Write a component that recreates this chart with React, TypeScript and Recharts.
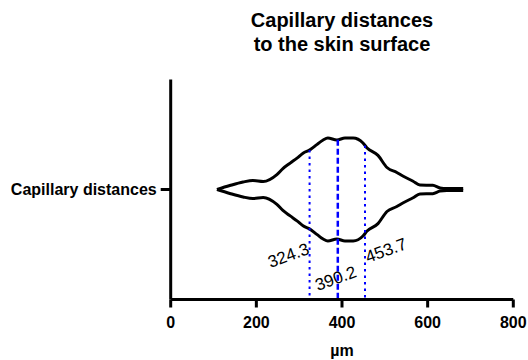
import React from 'react';
import { ComposedChart, Line, XAxis, YAxis, ReferenceLine, Label } from 'recharts';

// Violin outline: distance (µm) and half-width density (relative units)
const distanceUm = [108, 138, 169, 192, 216, 248, 262, 279, 295, 309, 325, 342, 356, 367, 388, 407, 426, 449, 458, 484, 505, 528, 542, 566, 582, 612, 629, 645, 683];
const density = [0, 0.036, 0.068, 0.082, 0.073, 0.136, 0.19, 0.24, 0.285, 0.33, 0.36, 0.41, 0.45, 0.468, 0.45, 0.468, 0.468, 0.423, 0.38, 0.31, 0.2, 0.155, 0.123, 0.075, 0.041, 0.038, 0.014, 0.009, 0.009];

const categoryLabel = 'Capillary distances';
const titleLines = ['Capillary distances', 'to the skin surface'];
const xTicks = [0, 200, 400, 600, 800];
const xAxisTitle = 'µm';

const quartileValues = [324.3, 390.2, 453.7];
const quartileKinds = ['quartile', 'median', 'quartile'];

const FONT = "'Liberation Sans', Arial, Helvetica, sans-serif";
const BLUE = '#0000ff';

const rows = distanceUm.map((x, i) => ({ x, upper: density[i], lower: -density[i] }));

function densityAt(v: number): number {
  for (let i = 0; i < distanceUm.length - 1; i++) {
    if (v >= distanceUm[i] && v <= distanceUm[i + 1]) {
      const t = (v - distanceUm[i]) / (distanceUm[i + 1] - distanceUm[i]);
      return density[i] + t * (density[i + 1] - density[i]);
    }
  }
  return 0;
}

// label placement offsets (pixels) relative to each line's bottom
const labelOffsets = [
  { dx: -21, dy: -44 },
  { dx: -2, dy: -21 },
  { dx: 21, dy: -49 },
];

export default function App() {
  return (
    <div style={{ position: 'absolute', left: 0, top: 0, width: 528, height: 360, background: '#fff' }}>
      <div
        style={{
          position: 'absolute',
          left: 170.7,
          width: 342.6,
          top: 8,
          textAlign: 'center',
          fontFamily: FONT,
          fontWeight: 'bold',
          fontSize: 20,
          lineHeight: '24px',
          color: '#000',
        }}
      >
        {titleLines.map((t) => (
          <div key={t}>{t}</div>
        ))}
      </div>
      <ComposedChart
        width={528}
        height={360}
        data={rows}
        margin={{ top: 79.5, right: 14.7, bottom: 0.5, left: 0 }}
      >
        <XAxis
          type="number"
          dataKey="x"
          domain={[0, 800]}
          ticks={xTicks}
          allowDataOverflow
          height={60}
          axisLine={{ stroke: '#000', strokeWidth: 3 }}
          tickLine={{ stroke: '#000', strokeWidth: 3 }}
          tickSize={8}
          tickMargin={9}
          tick={{ fill: '#000', fontSize: 16, fontWeight: 'bold', fontFamily: FONT }}
        >
          <Label
            value={xAxisTitle}
            position="insideBottom"
            offset={4}
            style={{ fill: '#000', fontSize: 16, fontWeight: 'bold', fontFamily: FONT }}
          />
        </XAxis>
        <YAxis
          type="number"
          domain={[-1, 1]}
          ticks={[0]}
          width={170.7}
          tickFormatter={() => categoryLabel}
          axisLine={{ stroke: '#000', strokeWidth: 3 }}
          tickLine={{ stroke: '#000', strokeWidth: 3 }}
          tickSize={10}
          tickMargin={4}
          tick={{ fill: '#000', fontSize: 16, fontWeight: 'bold', fontFamily: FONT }}
        />
        <Line
          dataKey="upper"
          type="monotone"
          stroke="#000"
          strokeWidth={3}
          dot={false}
          activeDot={false}
          isAnimationActive={false}
        />
        <Line
          dataKey="lower"
          type="monotone"
          stroke="#000"
          strokeWidth={3}
          dot={false}
          activeDot={false}
          isAnimationActive={false}
        />
        {quartileValues.map((q, i) => {
          const isMedian = quartileKinds[i] === 'median';
          const off = labelOffsets[i];
          return (
            <ReferenceLine
              key={q}
              segment={[
                { x: q, y: densityAt(q) },
                { x: q, y: -1 },
              ]}
              stroke={BLUE}
              strokeWidth={isMedian ? 2.5 : 2}
              strokeDasharray={isMedian ? '6 3' : '2.5 4'}
              ifOverflow="visible"
              label={(props: any) => {
                const vb = props.viewBox || {};
                const cx = vb.x + off.dx;
                const cy = vb.y + vb.height + off.dy;
                return (
                  <text
                    x={cx}
                    y={cy}
                    textAnchor="middle"
                    dominantBaseline="central"
                    transform={`rotate(-20 ${cx} ${cy})`}
                    style={{ fill: '#000', fontSize: 17, fontFamily: FONT }}
                  >
                    {q.toFixed(1)}
                  </text>
                );
              }}
            />
          );
        })}
      </ComposedChart>
    </div>
  );
}
